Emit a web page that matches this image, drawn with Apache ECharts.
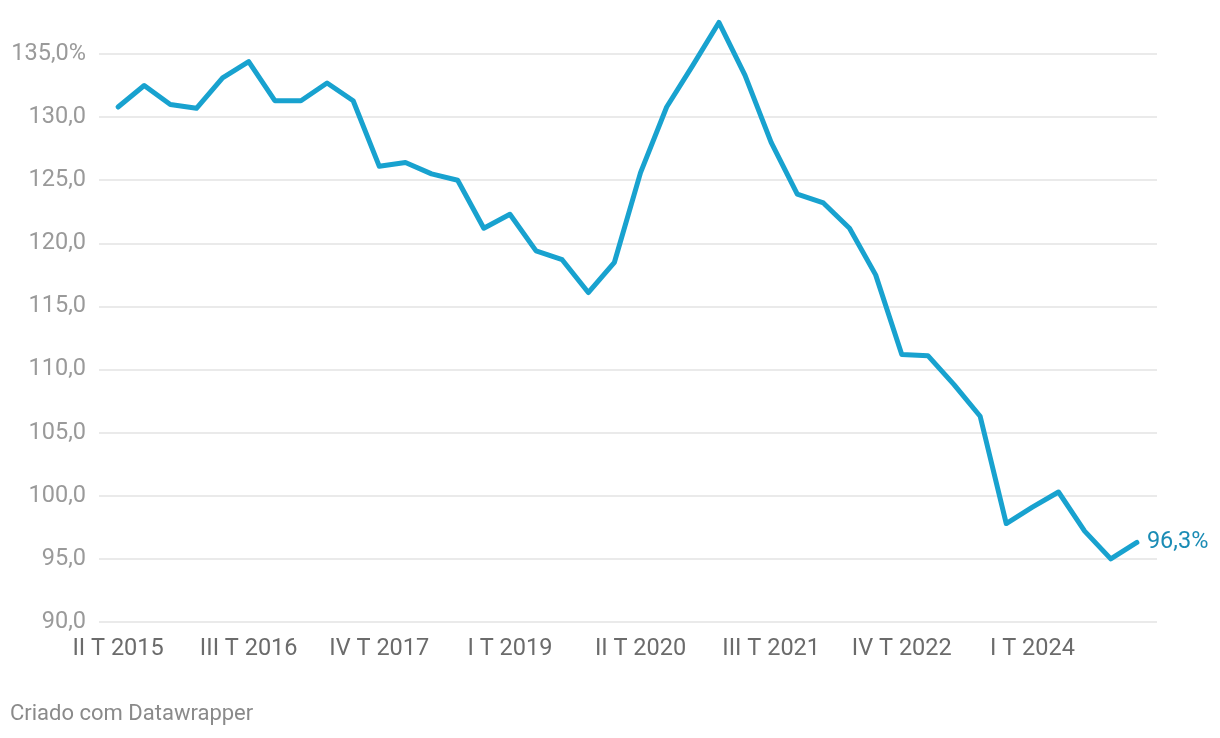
<!DOCTYPE html>
<html>
<head>
<meta charset="utf-8">
<script src="https://cdn.jsdelivr.net/npm/echarts@6/dist/echarts.min.js"></script>
<style>
html,body{margin:0;padding:0;background:#fff;}
#c{width:1220px;height:738px;}
</style>
</head>
<body>
<div id="c"></div>
<script>
const categories = ["II T 2015","III T 2015","IV T 2015","I T 2016","II T 2016","III T 2016","IV T 2016","I T 2017","II T 2017","III T 2017",
  "IV T 2017","I T 2018","II T 2018","III T 2018","IV T 2018","I T 2019","II T 2019","III T 2019","IV T 2019","I T 2020",
  "II T 2020","III T 2020","IV T 2020","I T 2021","II T 2021","III T 2021","IV T 2021","I T 2022","II T 2022","III T 2022",
  "IV T 2022","I T 2023","II T 2023","III T 2023","IV T 2023","I T 2024","II T 2024","III T 2024","IV T 2024","I T 2025"];
const values = [130.8,132.5,131.0,130.7,133.1,134.4,131.3,131.3,132.7,131.3,
  126.1,126.4,125.5,125.0,121.2,122.3,119.4,118.7,116.1,118.5,
  125.6,130.8,134.1,137.5,133.3,128.0,123.9,123.2,121.2,117.5,
  111.2,111.1,108.8,106.3,97.8,99.1,100.3,97.2,95.0,96.3];
const xTickIndices = [0,5,10,15,20,25,30,35];
const yTicks = [90,95,100,105,110,115,120,125,130,135];
const endLabelText = "96,3%";
const footer = "Criado com Datawrapper";

const chart = echarts.init(document.getElementById('c'));
const fmt = v => v.toFixed(1).replace('.', ',');
chart.setOption({
  backgroundColor: '#ffffff',
  animation: false,
  textStyle: { fontFamily: 'Roboto' },
  grid: { left: 99, right: 63, top: 54, bottom: 116, containLabel: false },
  graphic: [{
    type: 'text', left: 10, top: 703,
    style: { text: footer, fill: '#8a8a8a', font: '22px Roboto' }
  }],
  xAxis: {
    type: 'value',
    min: -0.73, max: 39.77,
    axisLine: { show: false },
    axisTick: { show: false },
    splitLine: { show: false },
    axisLabel: {
      customValues: xTickIndices,
      formatter: v => categories[Math.round(v)] || '',
      color: '#6b6b6b', fontSize: 23.5, margin: 15, fontFamily: 'Roboto'
    }
  },
  yAxis: {
    type: 'value',
    min: 90, max: 135, interval: 5,
    axisLine: { show: false },
    axisTick: { show: false },
    splitLine: { lineStyle: { color: '#e3e3e3', width: 1.5 } },
    axisLabel: {
      formatter: v => v === yTicks[yTicks.length - 1] ? fmt(v) + '%' : fmt(v),
      color: '#9a9a9a', fontSize: 23.5, margin: 13, fontFamily: 'Roboto'
    }
  },
  series: [{
    type: 'line',
    data: values.map((v, i) => [i, v]),
    clip: false,
    symbol: 'none',
    lineStyle: { color: '#18a2cf', width: 5, cap: 'round', join: 'round' },
    endLabel: {
      show: true,
      formatter: () => endLabelText,
      color: '#1a8cb5', fontSize: 23.5, distance: 10, fontFamily: 'Roboto'
    }
  }]
});
</script>
</body>
</html>
